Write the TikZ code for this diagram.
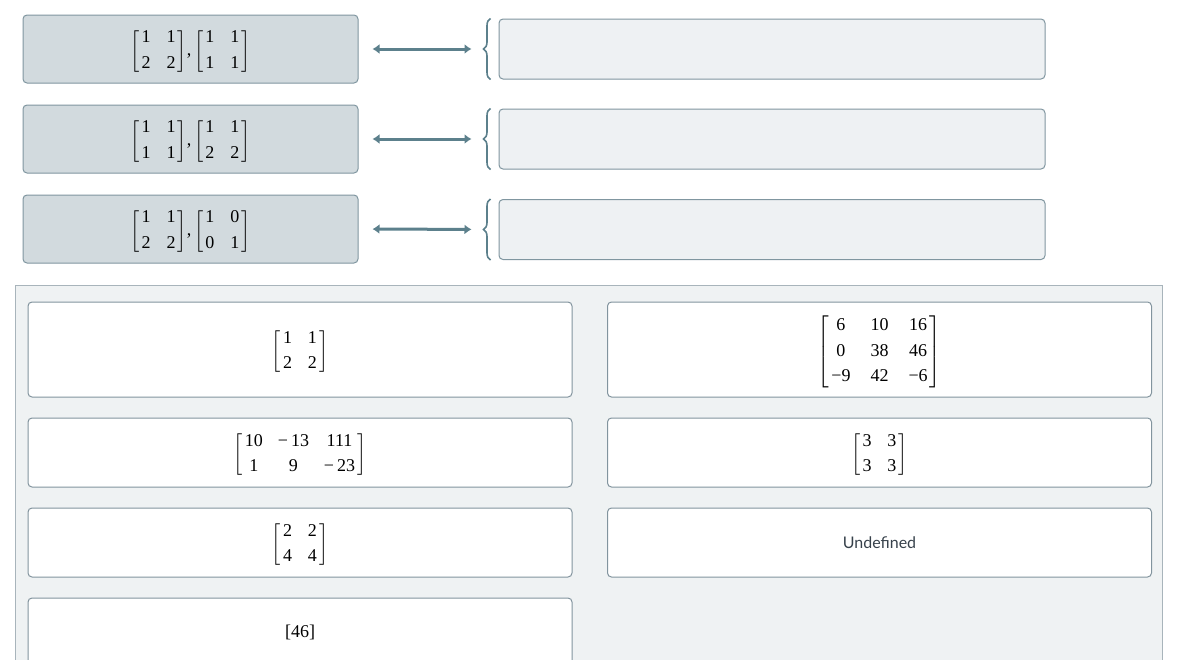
\documentclass[tikz,border=0pt]{standalone}
\usepackage{amsmath}
\usepackage{fontspec}
\setmainfont{Liberation Serif}
\newfontfamily\uifont{Lato}
\usetikzlibrary{arrows.meta,decorations.pathreplacing}
\newcommand{\mx}[3][8pt]{$\setlength{\tabcolsep}{#1}\left[\vcenter{\hbox{\begin{tabular}{@{\hspace{2pt}}#2@{\hspace{2pt}}}#3\end{tabular}}}\right]$}
\newcommand{\low}[1]{\raisebox{-2.5pt}[\height][\depth]{#1}}
\definecolor{pairfill}{RGB}{210,218,222}
\definecolor{pairline}{RGB}{128,150,160}
\definecolor{ansfill}{RGB}{238,241,243}
\definecolor{linkcol}{RGB}{92,128,140}
\definecolor{panelfill}{RGB}{239,242,243}
\definecolor{panelline}{RGB}{168,180,187}
\definecolor{cardline}{RGB}{130,148,158}
\definecolor{textcol}{RGB}{55,65,75}
\tikzstyle{pair}=[rectangle, draw=pairline, fill=pairfill, rounded corners=4pt, line width=1pt, minimum width=335pt, minimum height=68pt, font=\fontsize{18}{13}\selectfont]
\tikzstyle{answer}=[rectangle, draw=pairline, fill=ansfill, rounded corners=4pt, line width=1pt, minimum width=546pt, minimum height=60pt]
\tikzstyle{card}=[rectangle, draw=cardline, fill=white, rounded corners=4pt, line width=1pt, minimum width=544pt, minimum height=69pt, font=\fontsize{18}{13}\selectfont]
\tikzstyle{link}=[{Latex[length=7pt,width=10pt]}-{Latex[length=7pt,width=10pt]}, draw=linkcol, line width=3pt, shorten <=14pt, shorten >=27pt]
\tikzstyle{bracket}=[draw=linkcol, line width=1.6pt, decorate, decoration={brace, amplitude=7pt}]

\begin{document}
\begin{tikzpicture}[x=1pt, y=-1pt]
    \useasboundingbox (0,0) rectangle (1200,659);
    \fill[white] (0,0) rectangle (1200,659);
    \node[pair] (p1) at (190.5, 49) {\low{\mx{cc}{1&1\\[10pt]2&2},\,\mx{cc}{1&1\\[10pt]1&1}}};
    \node[pair] (p2) at (190.5, 139) {\low{\mx{cc}{1&1\\[10pt]1&1},\,\mx{cc}{1&1\\[10pt]2&2}}};
    \node[pair] (p3) at (190.5, 229) {\low{\mx{cc}{1&1\\[10pt]2&2},\,\mx{cc}{1&0\\[10pt]0&1}}};
    \node[answer] (a1) at (772, 49) {};
    \node[answer] (a2) at (772, 139) {};
    \node[answer] (a3) at (772, 229.5) {};
    \draw[link] (p1.east) -- (a1.west);
    \draw[link] (p2.east) -- (a2.west);
    \draw[link] (p3.east) -- (a3.west);
    \draw[bracket] ([xshift=-8pt]a1.south west) -- ([xshift=-8pt]a1.north west);
    \draw[bracket] ([xshift=-8pt]a2.south west) -- ([xshift=-8pt]a2.north west);
    \draw[bracket] ([xshift=-8pt]a3.south west) -- ([xshift=-8pt]a3.north west);
    \draw[panelline, fill=panelfill, line width=1pt] (15.5,285.5) rectangle (1162,690);
    \node[card, minimum height=95pt] (c1) at (300, 349.5) {\low{\mx{cc}{1&1\\[10pt]2&2}}};
    \node[card] (c2) at (300, 452.5) {\low{\mx[7.5pt]{ccc}{10&−\,13&111\\[10pt]1&9&−\,23}}};
    \node[card] (c3) at (300, 542.5) {\low{\mx{cc}{2&2\\[10pt]4&4}}};
    \node[card] (c4) at (300, 632.5) {[46]};
    \node[card, minimum height=95pt] (c5) at (879.5, 349.5) {\low{\mx[10pt]{ccc}{6&10&16\\[10pt]0&38&46\\[10pt]−9&42&−6}}};
    \node[card] (c6) at (879.5, 452.5) {\low{\mx{cc}{3&3\\[10pt]3&3}}};
    \node[card, font=\uifont\fontsize{16}{19}\selectfont, text=textcol] (c7) at (879.5, 542.5) {Undefined};
\end{tikzpicture}
\end{document}
